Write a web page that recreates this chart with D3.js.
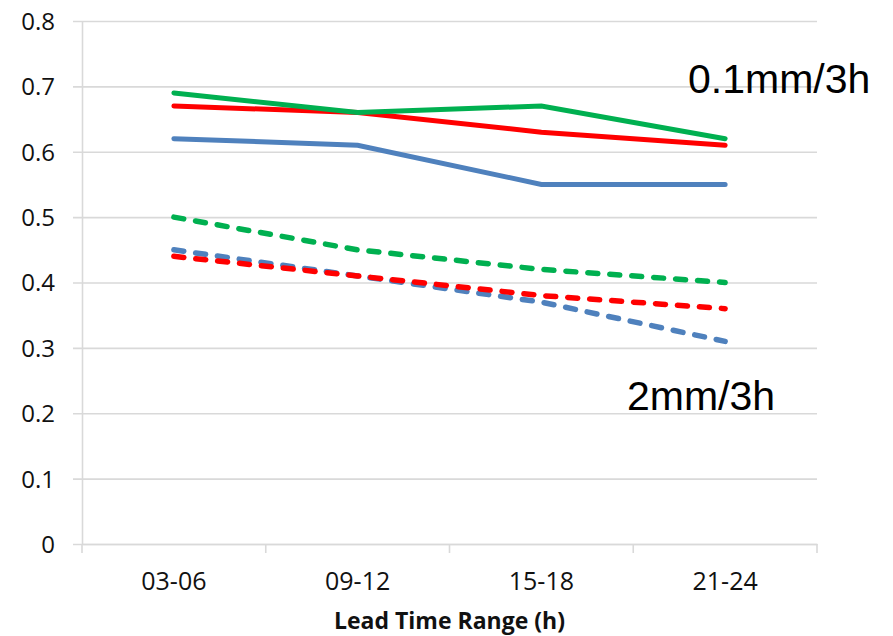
<!DOCTYPE html>
<html>
<head>
<meta charset="utf-8">
<script src="https://cdn.jsdelivr.net/npm/d3@7"></script>
<style>
  body { margin: 0; background: #fff; }
  .tick text { font-family: "Open Sans", sans-serif; fill: #111; }
  .note { font-family: "Liberation Sans", Arial, sans-serif; fill: #000; }
</style>
</head>
<body>
<script>
var svgWidth = 893;
var svgHeight = 636;

var Margin = { top: 21, right: 76, bottom: 92, left: 82 };
var Width = svgWidth - Margin.left - Margin.right;
var Height = svgHeight - Margin.top - Margin.bottom;

// data
var leadTimes = ["03-06", "09-12", "15-18", "21-24"];
var yTicks = [0, 0.1, 0.2, 0.3, 0.4, 0.5, 0.6, 0.7, 0.8];

var green01 = [0.69, 0.66, 0.67, 0.62];
var red01 = [0.67, 0.66, 0.63, 0.61];
var blue01 = [0.62, 0.61, 0.55, 0.55];
var green2 = [0.50, 0.45, 0.42, 0.40];
var red2 = [0.44, 0.41, 0.38, 0.36];
var blue2 = [0.45, 0.41, 0.37, 0.31];

var series = [
  { values: blue2, color: "#4f81bd", dashed: true },
  { values: red2, color: "#ff0000", dashed: true },
  { values: green2, color: "#00b050", dashed: true },
  { values: blue01, color: "#4f81bd", dashed: false },
  { values: red01, color: "#ff0000", dashed: false },
  { values: green01, color: "#00b050", dashed: false }
];

var svg = d3.select("body")
  .append("svg")
  .attr("width", svgWidth)
  .attr("height", svgHeight);

var chartGroup = svg.append("g")
  .attr("transform", `translate(${Margin.left}, ${Margin.top})`);

var xScale = d3.scaleBand()
  .domain(leadTimes)
  .range([0, Width]);

var yScale = d3.scaleLinear()
  .domain([0, 0.8])
  .range([Height, 0]);

// gridlines
var grid = chartGroup.append("g")
  .call(d3.axisLeft(yScale).tickValues(yTicks).tickSize(-Width).tickFormat(""));
grid.select(".domain").remove();
grid.selectAll("line")
  .attr("x1", -9)
  .attr("stroke", "#d9d9d9")
  .attr("stroke-width", 1.6);

// y axis labels + left line
var leftAxis = chartGroup.append("g")
  .call(d3.axisLeft(yScale).tickValues(yTicks).tickSize(0).tickPadding(27)
    .tickFormat(d => d === 0 ? "0" : d3.format(".1f")(d)));
leftAxis.select(".domain").attr("stroke", "#d9d9d9").attr("stroke-width", 1.6);
leftAxis.selectAll("text").style("font-size", "24px").attr("dy", "0.35em");

// x axis
var bottomAxis = chartGroup.append("g")
  .attr("transform", `translate(0, ${Height})`)
  .call(d3.axisBottom(xScale).tickSize(0).tickPadding(28));
bottomAxis.select(".domain").attr("stroke", "#d9d9d9").attr("stroke-width", 1.6);
bottomAxis.selectAll("text").style("font-size", "25px");

var xTickPos = leadTimes.map(d => xScale(d)).concat([Width]);
bottomAxis.selectAll(".sep")
  .data(xTickPos)
  .enter()
  .append("line")
  .attr("x1", d => d)
  .attr("x2", d => d)
  .attr("y1", 0)
  .attr("y2", 9)
  .attr("stroke", "#d9d9d9")
  .attr("stroke-width", 1.6);

svg.append("text")
  .attr("x", Margin.left + Width / 2)
  .attr("y", 629)
  .style("text-anchor", "middle")
  .style("font-family", "'Open Sans', sans-serif")
  .style("font-weight", "bold")
  .style("font-size", "23px")
  .style("fill", "#111")
  .text("Lead Time Range (h)");

// lines
var line = d3.line()
  .x((d, i) => xScale(leadTimes[i]) + xScale.bandwidth() / 2)
  .y(d => yScale(d));

chartGroup.selectAll(".series")
  .data(series)
  .enter()
  .append("path")
  .attr("class", "series")
  .attr("d", d => line(d.values))
  .attr("fill", "none")
  .attr("stroke", d => d.color)
  .attr("stroke-width", d => d.dashed ? 5.5 : 5)
  .attr("stroke-linecap", "round")
  .attr("stroke-dasharray", d => d.dashed ? "10,12" : null);

// annotations
svg.append("text")
  .attr("class", "note")
  .attr("x", 688)
  .attr("y", 93)
  .style("font-size", "41px")
  .text("0.1mm/3h");

svg.append("text")
  .attr("class", "note")
  .attr("x", 627)
  .attr("y", 410)
  .style("font-size", "41px")
  .text("2mm/3h");
</script>
</body>
</html>
